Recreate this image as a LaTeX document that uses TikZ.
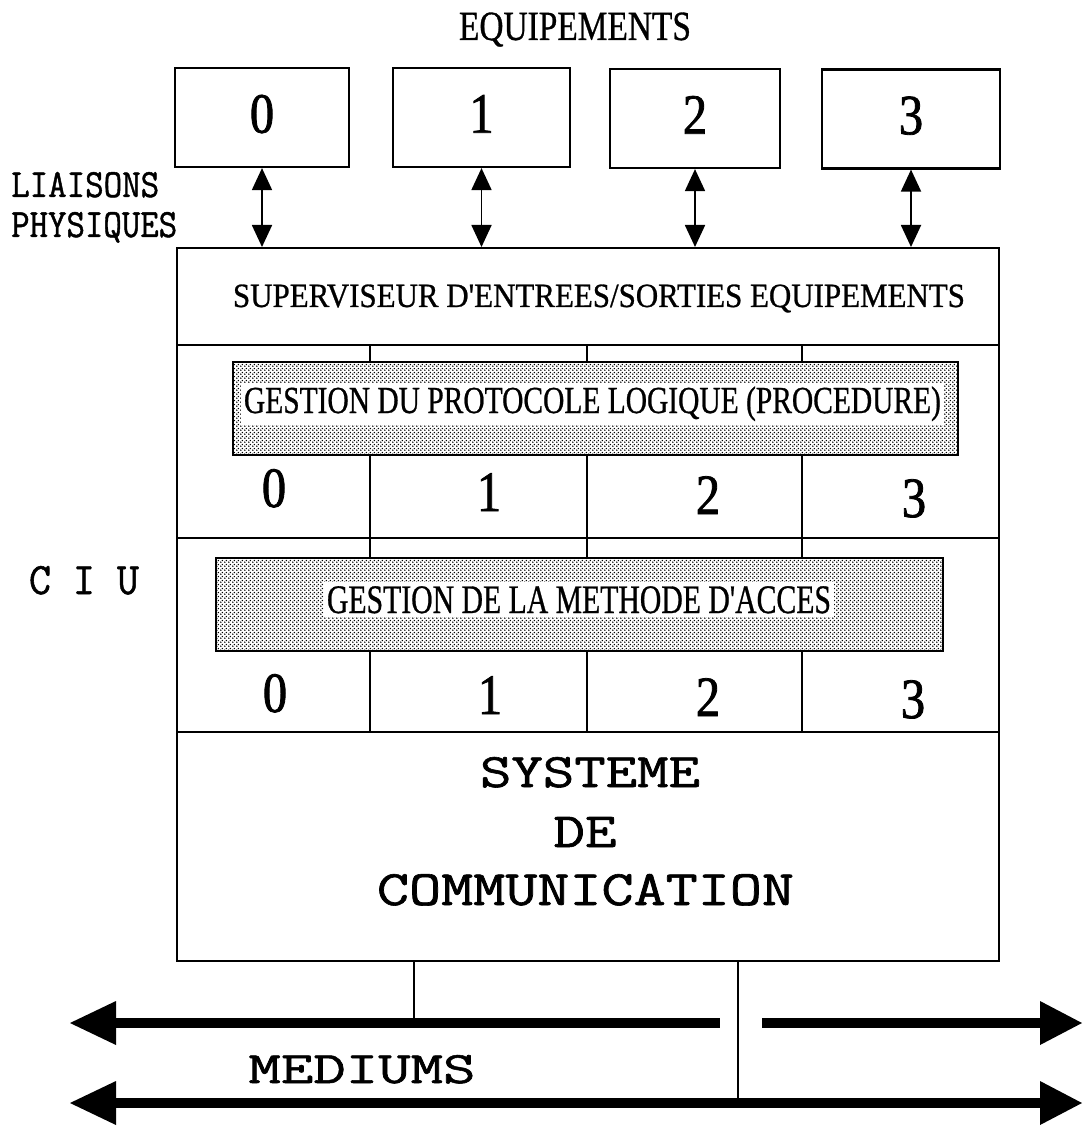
\documentclass[tikz,border=0pt]{standalone}
\usepackage{fontspec}
\setmainfont{Liberation Serif}
\newfontfamily\monof[FakeBold=1.2]{Latin Modern Mono}
\newfontfamily\serf[FakeBold=0.8]{Liberation Serif}
\newfontfamily\digf[FakeBold=1.4,FakeStretch=0.85]{Liberation Serif}
\usepackage{graphicx}
\usetikzlibrary{arrows.meta,patterns}
\pgfdeclarepatternformonly{halftone}{\pgfpointorigin}{\pgfpoint{4pt}{4pt}}{\pgfpoint{4pt}{4pt}}{%
  \pgfpathcircle{\pgfpoint{1pt}{1pt}}{0.95pt}%
  \pgfpathcircle{\pgfpoint{3pt}{3pt}}{0.95pt}%
  \pgfusepath{fill}}
\newcommand{\sertxt}[3]{\resizebox{#1pt}{#2pt}{\fontsize{30pt}{36pt}\selectfont\serf #3}}
\newcommand{\montxt}[3]{\resizebox{#1pt}{#2pt}{\fontsize{30pt}{36pt}\selectfont\monof #3}}
\begin{document}
\begin{tikzpicture}[x=1pt,y=-1pt,
  equip/.style={draw,line width=2.2pt,minimum height=99pt,inner sep=0pt,font=\fontsize{57pt}{60pt}\selectfont\digf,text height=38.5pt,text depth=8pt},
  mainframe/.style={draw,line width=2.2pt,inner sep=0pt},
  link/.style={line width=1.8pt,{Triangle[length=22pt,width=20pt]}-{Triangle[length=22pt,width=20pt]}},
  rowline/.style={line width=2.2pt},
  colline/.style={line width=1.8pt},
  shadebox/.style={draw,line width=2.4pt,preaction={fill=white},pattern=halftone,inner sep=0pt},
  txt/.style={anchor=base,inner sep=0pt},
  bandtxt/.style={anchor=base,fill=white,inner xsep=3pt,inner ysep=4pt},
  digit/.style={anchor=base,inner sep=0pt,font=\fontsize{57pt}{60pt}\selectfont\digf},
  dropline/.style={line width=2.8pt},
  mediumline/.style={line width=10pt}
]
\fill[white] (0,0) rectangle (1083,1131);
\useasboundingbox (0,0) rectangle (1083,1131);

% title
\node[txt] (eqlbl) at (575,40) {\sertxt{232}{27.5}{EQUIPEMENTS}};

% equipment boxes
\node[equip,minimum width=174pt] (e0) at (262,117.5) {0};
\node[equip,minimum width=177pt] (e1) at (481.5,117.5) {1};
\node[equip,minimum width=170pt] (e2) at (695,118.5) {2};
\node[equip,minimum width=178pt] (e3) at (911,119) {3};

% main CIU frame
\node[mainframe,minimum width=822pt,minimum height=713pt,anchor=north west] (main) at (176,247) {};

% physical links
\foreach \i in {0,...,3} \draw[link] (e\i.south) -- (e\i.south |- main.north);

\node[txt,anchor=base west] (li) at (11,197) {\montxt{148}{25}{LIAISONS}};
\node[txt,anchor=base west] (ph) at (11,237) {\montxt{166}{25}{PHYSIQUES}};

% supervisor row
\node[txt] (sup) at (599,307) {\sertxt{732}{22.5}{SUPERVISEUR D'ENTREES/SORTIES EQUIPEMENTS}};

% internal grid
\draw[rowline] (176,345) -- (998,345);
\draw[rowline] (176,538) -- (998,538);
\draw[rowline] (176,732) -- (998,732);
\draw[colline] (370,345) -- (370,732);
\draw[colline] (587,345) -- (587,732);
\draw[colline] (802,345) -- (802,732);

% shaded layers
\node[shadebox,minimum width=725pt,minimum height=93pt] (pr) at (595.5,408.5) {};
\node[bandtxt] (prt) at (592.5,413) {\sertxt{697}{26.5}{GESTION DU PROTOCOLE LOGIQUE (PROCEDURE)}};
\node[shadebox,minimum width=727pt,minimum height=93pt] (ac) at (579.5,604.5) {};
\node[bandtxt] (act) at (579,613) {\sertxt{504}{26.8}{GESTION DE LA METHODE D'ACCES}};

% digits
\node[digit] (r1a) at (274,507) {0};
\node[digit] (r1b) at (489,511) {1};
\node[digit] (r1c) at (708,514) {2};
\node[digit] (r1d) at (914,517) {3};
\node[digit] (r2a) at (275,712) {0};
\node[digit] (r2b) at (490,714) {1};
\node[digit] (r2c) at (708,716) {2};
\node[digit] (r2d) at (913,718) {3};

% CIU label
\node[txt] (ciu) at (84,594) {\montxt{110}{28}{C I U}};

% communication system
\node[txt] (sys) at (590,787) {\montxt{220}{30}{SYSTEME}};
\node[txt] (de) at (585,847) {\montxt{63}{30}{DE}};
\node[txt] (com) at (585.5,905) {\montxt{417}{31}{COMMUNICATION}};

% mediums
\coordinate (m1) at (414,1023);
\coordinate (m2) at (738,1103);
\coordinate (aL1) at (70,1023);
\coordinate (aE1) at (720,1023);
\coordinate (aS2) at (762,1023);
\coordinate (aR1) at (1082,1023);
\coordinate (aL2) at (70,1103);
\coordinate (aR2) at (1082,1103);
\draw[mediumline,{Triangle[length=46pt,width=44pt,line width=0pt]}-] (aL1) -- (aE1);
\draw[mediumline,-{Triangle[length=42pt,width=44pt,line width=0pt]}] (aS2) -- (aR1);
\draw[mediumline,{Triangle[length=46pt,width=44pt,line width=0pt]}-{Triangle[length=42pt,width=44pt,line width=0pt]}] (aL2) -- (aR2);
\draw[dropline] (main.south -| m1) -- (m1);
\draw[dropline] (main.south -| m2) -- (m2);

\node[txt] (med) at (362,1083) {\montxt{227}{28}{MEDIUMS}};
\end{tikzpicture}
\end{document}
